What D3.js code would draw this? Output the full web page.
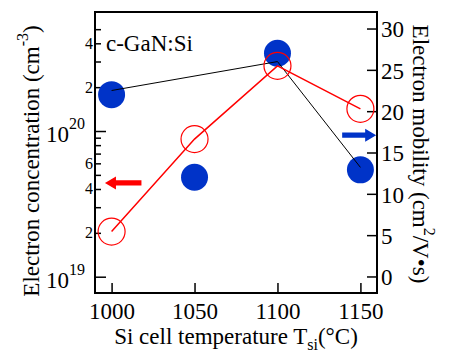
<!DOCTYPE html>
<html>
<head>
<meta charset="utf-8">
<script src="https://cdn.jsdelivr.net/npm/d3@7"></script>
<style>
  body { margin: 0; background: #fff; }
</style>
</head>
<body>
<div id="chart"></div>
<script>
// data
var temps = [1000, 1050, 1100, 1150];
var concentration = [2.04e19, 8.8e19, 2.8e20, 1.42e20];   // cm^-3, left axis
var mobility = [22.0, 12.0, 27.0, 12.9];                  // cm^2/Vs, right axis
var guideTemps = [1000, 1100, 1150];                      // thin black guide line
var guideMobility = [22.5, 26.0, 13.2];

var xTicks = [1000, 1050, 1100, 1150];
var mobilityTicks = [0, 5, 10, 15, 20, 25, 30];
var concMajor = [1e19, 1e20];
var concMinor = [2e19, 3e19, 4e19, 5e19, 6e19, 7e19, 8e19, 9e19, 2e20, 3e20, 4e20, 5e20];
var concMinorLabels = [2e19, 4e19, 6e19, 2e20, 4e20];

// arrows pointing at the axis each series belongs to (data coords)
var redArrow = { from: 1018, to: 996, value: 4.4e19 };
var blueArrow = { from: 1139, to: 1159.5, value: 17.1 };

function drawChart() {
    var W = 449, H = 352;
    var pl = 95, pr = 377, pt = 12, pb = 293;
    var red = "#ff0000", blue = "#0033c8";
    var serif = '"Liberation Serif", "Times New Roman", Times, serif';

    var svg = d3.select("#chart").append("svg")
        .attr("width", W).attr("height", H);

    var x = d3.scaleLinear().domain([990, 1160]).range([pl, pr]);
    var yC = d3.scaleLog().domain([7.73e18, 6.56e20]).range([pb, pt]);
    var yM = d3.scaleLinear().domain([-2, 32]).range([pb, pt]);

    // bottom axis, ticks pointing in
    var xAxis = svg.append("g")
        .attr("transform", "translate(0," + pb + ")")
        .call(d3.axisBottom(x).tickValues(xTicks).tickSize(-10).tickSizeOuter(0)
            .tickFormat(d3.format("d")));
    xAxis.select(".domain").remove();
    xAxis.selectAll("line").attr("stroke-width", 1.5);
    xAxis.selectAll("text").attr("font-size", 23).attr("dy", null).attr("y", 26);

    // left log axis: major and minor ticks
    var lMajor = svg.append("g")
        .attr("transform", "translate(" + pl + ",0)")
        .call(d3.axisLeft(yC).tickValues(concMajor).tickSize(-11).tickSizeOuter(0).tickFormat(""));
    var lMinor = svg.append("g")
        .attr("transform", "translate(" + pl + ",0)")
        .call(d3.axisLeft(yC).tickValues(concMinor).tickSize(-6).tickSizeOuter(0).tickFormat(""));
    [lMajor, lMinor].forEach(function (g) {
        g.select(".domain").remove();
        g.selectAll("line").attr("stroke-width", 1.5);
    });

    svg.selectAll("text.minorlab")
        .data(concMinorLabels)
        .enter().append("text")
        .attr("class", "minorlab")
        .attr("x", pl - 2)
        .attr("y", function (d) { return yC(d) + 5.5; })
        .attr("text-anchor", "end")
        .attr("font-size", 16)
        .text(function (d) { return Math.round(d / Math.pow(10, Math.floor(Math.log10(d)))); });

    var majLab = svg.selectAll("text.majlab")
        .data(concMajor)
        .enter().append("text")
        .attr("class", "majlab")
        .attr("x", pl - 10)
        .attr("y", function (d) { return yC(d) + 11; })
        .attr("text-anchor", "end")
        .attr("font-size", 23);
    majLab.append("tspan").text("10");
    majLab.append("tspan").attr("font-size", 16).attr("dy", -13)
        .text(function (d) { return Math.round(Math.log10(d)); });

    // right axis
    var rAxis = svg.append("g")
        .attr("transform", "translate(" + pr + ",0)")
        .call(d3.axisRight(yM).tickValues(mobilityTicks).tickSize(-10).tickSizeOuter(0).tickPadding(4));
    rAxis.select(".domain").remove();
    rAxis.selectAll("line").attr("stroke-width", 1.5);
    rAxis.selectAll("text").attr("font-size", 23).attr("dy", "0.36em");

    // frame
    svg.append("rect")
        .attr("x", pl).attr("y", pt)
        .attr("width", pr - pl).attr("height", pb - pt)
        .attr("fill", "none").attr("stroke", "#000").attr("stroke-width", 2);

    // series
    var conc = temps.map(function (t, i) { return { t: t, v: concentration[i] }; });
    var mob = temps.map(function (t, i) { return { t: t, v: mobility[i] }; });
    var guide = guideTemps.map(function (t, i) { return { t: t, v: guideMobility[i] }; });

    svg.selectAll("circle.mob")
        .data(mob)
        .enter().append("circle")
        .attr("class", "mob")
        .attr("cx", function (d) { return x(d.t); })
        .attr("cy", function (d) { return yM(d.v); })
        .attr("r", 13.5)
        .attr("fill", blue);

    svg.append("path")
        .datum(guide)
        .attr("fill", "none").attr("stroke", "#000").attr("stroke-width", 1)
        .attr("d", d3.line().x(function (d) { return x(d.t); }).y(function (d) { return yM(d.v); }));

    svg.append("path")
        .datum(conc)
        .attr("fill", "none").attr("stroke", red).attr("stroke-width", 1.5)
        .attr("d", d3.line().x(function (d) { return x(d.t); }).y(function (d) { return yC(d.v); }));

    svg.selectAll("circle.conc")
        .data(conc)
        .enter().append("circle")
        .attr("class", "conc")
        .attr("cx", function (d) { return x(d.t); })
        .attr("cy", function (d) { return yC(d.v); })
        .attr("r", 13.5)
        .attr("fill", "none").attr("stroke", red).attr("stroke-width", 1.2);

    // arrows
    function arrow(a, ys, color) {
        var x0 = x(a.from), x1 = x(a.to), y = ys(a.value);
        var dir = x1 > x0 ? 1 : -1, hl = 11, hw = 6.5, sw = 2.6;
        var xb = x1 - dir * hl;
        var pts = [[x0, y - sw], [xb, y - sw], [xb, y - hw], [x1, y], [xb, y + hw], [xb, y + sw], [x0, y + sw]];
        svg.append("path").attr("d", "M" + pts.join("L") + "Z").attr("fill", color);
    }
    arrow(redArrow, yC, red);
    arrow(blueArrow, yM, blue);

    // labels
    svg.append("text").attr("x", 106).attr("y", 51).attr("font-size", 23).text("c-GaN:Si");

    var xt = svg.append("text").attr("x", 236).attr("y", 344)
        .attr("text-anchor", "middle").attr("font-size", 23);
    xt.append("tspan").text("Si cell temperature T");
    xt.append("tspan").attr("font-size", 16).attr("dy", 6).text("si");
    xt.append("tspan").attr("dy", -6).text("(°C)");

    var lt = svg.append("text").attr("transform", "translate(39,161) rotate(-90)")
        .attr("text-anchor", "middle").attr("font-size", 23);
    lt.append("tspan").text("Electron concentration (cm");
    lt.append("tspan").attr("font-size", 16).attr("dy", -11).text("-3");
    lt.append("tspan").attr("dy", 11).text(")");

    var rt = svg.append("text").attr("transform", "translate(413,154) rotate(90)")
        .attr("text-anchor", "middle").attr("font-size", 23);
    rt.append("tspan").text("Electron mobility (cm");
    rt.append("tspan").attr("font-size", 16).attr("dy", -11).text("2");
    rt.append("tspan").attr("dy", 11).text("/V•s)");

    // serif everywhere, overriding the axis default
    svg.selectAll("text").style("font-family", serif).attr("fill", "#000");
}

drawChart();
</script>
</body>
</html>
